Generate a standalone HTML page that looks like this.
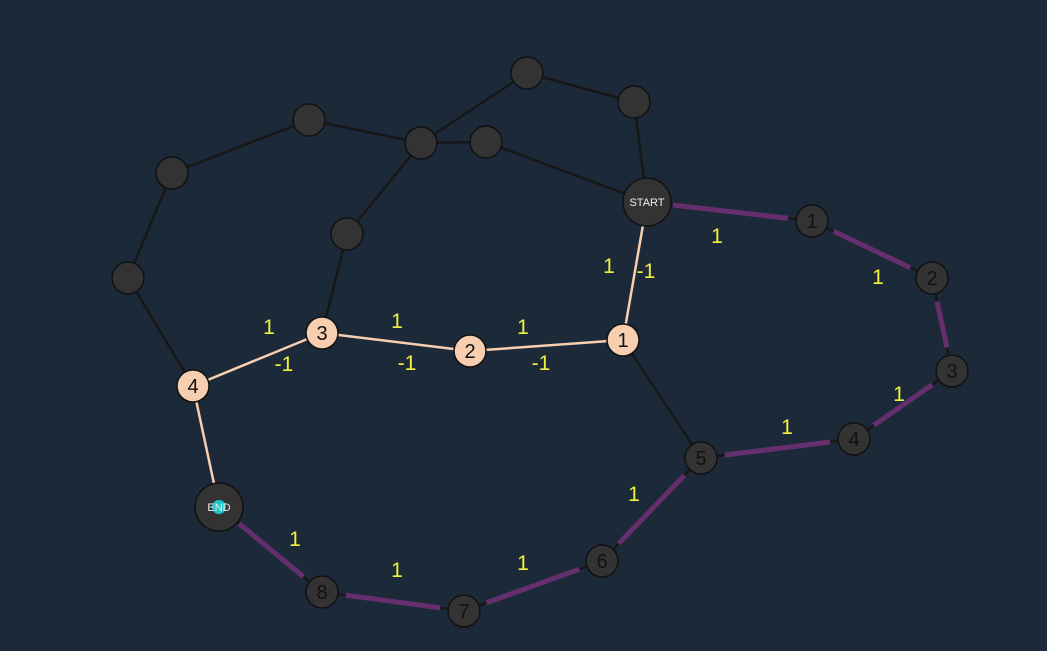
<!DOCTYPE html>
<html><head><meta charset="utf-8"><style>
html,body{margin:0;padding:0;background:#1c2938;}
svg{display:block;}
text{font-family:"Liberation Sans",sans-serif;}
</style></head><body>
<svg id="g" width="1047" height="651" viewBox="0 0 1047 651">
<rect width="1047" height="651" fill="#1c2938"/>
</svg>
<script>
const nodeIds=["START","END","p1","p2","p3","p4","p5","p6","p7","p8","o1","o2","o3","o4","a","b","c","d","e","f","g","h"];
const nodeX=[647,219,812,932,952,854,701,602,464,322,623,470,322,193,527,634,486,421,309,172,128,347];
const nodeY=[202,507,221,278,371,439,458,561,611,592,340,351,333,386,73,102,142,143,120,173,278,234];
const nodeLabels=["START","END","1","2","3","4","5","6","7","8","1","2","3","4","","","","","","","",""];
const blackEdges=[["START","b"],["b","a"],["a","d"],["d","c"],["e","d"],["c","START"],["d","h"],["h","o3"],["e","f"],["f","g"],["g","o4"],["o1","p5"],["START","p1"],["p1","p2"],["p2","p3"],["p3","p4"],["p4","p5"],["p5","p6"],["p6","p7"],["p7","p8"],["p8","END"]];
const peachEdges=[["START","o1"],["o1","o2"],["o2","o3"],["o3","o4"],["o4","END"]];
const purpleEdges=[["START","p1"],["p1","p2"],["p2","p3"],["p3","p4"],["p4","p5"],["p5","p6"],["p6","p7"],["p7","p8"],["p8","END"]];
const edgeLabelText=["1","-1","1","-1","1","-1","1","-1","1","1","1","1","1","1","1","1"];
const edgeLabelX=[609,646,523,541,397,407,269,284,717,878,899,787,634,523,397,295];
const edgeLabelY=[265,270,326,362,320,362,326,363,235,276,393,426,493,562,569,538];
const NS="http://www.w3.org/2000/svg";
const svg=document.getElementById('g');
function P(id){const i=nodeIds.indexOf(id);return [nodeX[i],nodeY[i]];}
function mk(t,a){const e=document.createElementNS(NS,t);for(const k in a)e.setAttribute(k,a[k]);svg.appendChild(e);return e;}
blackEdges.forEach(([s,t])=>{const [x1,y1]=P(s),[x2,y2]=P(t);
 const l=mk('line',{x1,y1,x2,y2,stroke:'#171717','stroke-width':2.5});
 
 });
peachEdges.forEach(([s,t])=>{const [x1,y1]=P(s),[x2,y2]=P(t);
 const l=mk('line',{x1,y1,x2,y2,stroke:'#f7cfb0','stroke-width':2.5});
 
 });
purpleEdges.forEach(([s,t])=>{const [x1,y1]=P(s),[x2,y2]=P(t);
 const si=nodeIds.indexOf(s),ti=nodeIds.indexOf(t);
 const rs=(s==='START'||s==='END')?26:24,rt=(t==='START'||t==='END')?26:24;
 const dx=x2-x1,dy=y2-y1,L=Math.hypot(dx,dy);
 const l=mk('line',{x1:x1+dx*rs/L,y1:y1+dy*rs/L,x2:x2-dx*rt/L,y2:y2-dy*rt/L,stroke:'#642f6c','stroke-width':5});
 
 });
edgeLabelText.forEach((t,i)=>{const e=mk('text',{x:edgeLabelX[i],y:edgeLabelY[i]+8,'text-anchor':'middle','font-size':21,fill:'#f2f23c'});
 e.textContent=t;
 
 });
nodeIds.forEach((id,i)=>{const big=(id==='START'||id==='END');
 const peach=id[0]==='o';
 const c=mk('circle',{cx:nodeX[i],cy:nodeY[i],r:big?24:16,fill:peach?'#f7cfb0':'#333333',stroke:'#111','stroke-width':1.5});
 
 
 if(id==='END'){const d=mk('circle',{cx:nodeX[i],cy:nodeY[i],r:7,fill:'#1fc3c9'});
  
  }
 if(nodeLabels[i]){const t=mk('text',{x:nodeX[i],y:nodeY[i]+(big?4:7),'text-anchor':'middle','font-size':big?11:20,fill:big?'#eeeeee':'#111'});
  t.textContent=nodeLabels[i];
  
  }
});
</script>
</body></html>
